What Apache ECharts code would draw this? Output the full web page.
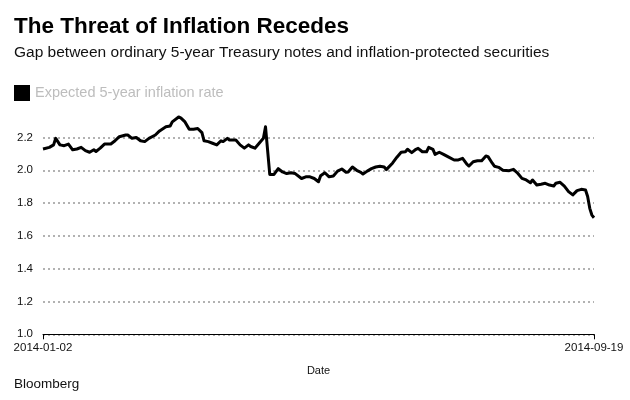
<!DOCTYPE html>
<html>
<head>
<meta charset="utf-8">
<script src="https://cdn.jsdelivr.net/npm/echarts@6/dist/echarts.min.js"></script>
<style>
html,body{margin:0;padding:0;background:#fff;}
#chart{width:630px;height:400px;}
</style>
</head>
<body>
<div id="chart"></div>
<script>
var dates = [
"2014-01-02","2014-01-05","2014-01-07","2014-01-08","2014-01-10","2014-01-12","2014-01-14","2014-01-16","2014-01-18","2014-01-20",
"2014-01-22","2014-01-24","2014-01-26","2014-01-27","2014-01-29","2014-01-31","2014-02-03","2014-02-05","2014-02-07","2014-02-10",
"2014-02-11","2014-02-13","2014-02-15","2014-02-17","2014-02-19","2014-02-21","2014-02-24","2014-02-26","2014-03-01","2014-03-03",
"2014-03-04","2014-03-07","2014-03-08","2014-03-10","2014-03-12","2014-03-14","2014-03-16","2014-03-18","2014-03-19","2014-03-21",
"2014-03-23","2014-03-25","2014-03-27","2014-03-28","2014-03-30","2014-03-31","2014-04-03","2014-04-05","2014-04-07","2014-04-09",
"2014-04-10","2014-04-12","2014-04-14","2014-04-16","2014-04-17","2014-04-19","2014-04-21","2014-04-23","2014-04-25","2014-04-27",
"2014-04-29","2014-05-01","2014-05-04","2014-05-06","2014-05-08","2014-05-10","2014-05-12","2014-05-13","2014-05-15","2014-05-17",
"2014-05-19","2014-05-21","2014-05-23","2014-05-25","2014-05-26","2014-05-28","2014-05-30","2014-06-01","2014-06-02","2014-06-04",
"2014-06-06","2014-06-08","2014-06-10","2014-06-12","2014-06-13","2014-06-16","2014-06-18","2014-06-20","2014-06-22","2014-06-23",
"2014-06-25","2014-06-27","2014-06-28","2014-06-30","2014-07-02","2014-07-03","2014-07-05","2014-07-06","2014-07-08","2014-07-10",
"2014-07-12","2014-07-15","2014-07-17","2014-07-19","2014-07-21","2014-07-22","2014-07-24","2014-07-26","2014-07-28","2014-07-30",
"2014-07-31","2014-08-02","2014-08-03","2014-08-05","2014-08-07","2014-08-10","2014-08-12","2014-08-14","2014-08-16","2014-08-18",
"2014-08-20","2014-08-21","2014-08-23","2014-08-25","2014-08-27","2014-08-29","2014-08-31","2014-09-01","2014-09-03","2014-09-05",
"2014-09-07","2014-09-09","2014-09-11","2014-09-13","2014-09-15","2014-09-16","2014-09-17","2014-09-18","2014-09-19"
];
var inflation = [
2.130,2.140,2.155,2.195,2.155,2.150,2.160,2.125,2.130,2.140,
2.120,2.110,2.125,2.115,2.135,2.160,2.160,2.180,2.205,2.215,
2.215,2.195,2.200,2.180,2.175,2.195,2.215,2.240,2.265,2.270,
2.295,2.325,2.320,2.295,2.250,2.250,2.255,2.230,2.180,2.175,
2.165,2.155,2.180,2.175,2.195,2.185,2.185,2.155,2.135,2.155,
2.145,2.135,2.165,2.195,2.265,1.975,1.975,2.010,1.990,1.980,
1.985,1.980,1.950,1.960,1.960,1.950,1.930,1.967,1.985,1.960,
1.965,1.995,2.008,1.988,1.990,2.020,2.000,1.988,1.977,1.995,
2.010,2.020,2.025,2.020,2.004,2.045,2.080,2.110,2.113,2.128,
2.108,2.128,2.134,2.113,2.113,2.140,2.128,2.097,2.110,2.097,
2.083,2.063,2.063,2.073,2.037,2.026,2.052,2.058,2.058,2.087,
2.083,2.043,2.025,2.018,2.000,1.998,2.006,1.982,1.951,1.941,
1.924,1.941,1.910,1.915,1.921,1.910,1.904,1.921,1.927,1.904,
1.870,1.850,1.876,1.884,1.880,1.840,1.768,1.727,1.711
];
var xEnds = ["2014-01-02", "2014-09-19"];
var yTicks = [1.0, 1.2, 1.4, 1.6, 1.8, 2.0, 2.2];

function stamp(d) { return Date.UTC(+d.slice(0, 4), +d.slice(5, 7) - 1, +d.slice(8, 10)); }
var seriesData = dates.map(function (d, i) { return [stamp(d), inflation[i]]; });
var endStamps = xEnds.map(stamp);
function fmtDate(v) {
  var d = new Date(v);
  var m = d.getUTCMonth() + 1, day = d.getUTCDate();
  return d.getUTCFullYear() + "-" + (m < 10 ? "0" : "") + m + "-" + (day < 10 ? "0" : "") + day;
}

var chart = echarts.init(document.getElementById('chart'), null, {renderer: 'canvas'});
var font = "'Liberation Sans', Arial, Helvetica, sans-serif";
chart.setOption({
  animation: false,
  backgroundColor: '#fff',
  textStyle: {fontFamily: font},
  title: [
    {text: 'The Threat of Inflation Recedes', left: 9, top: 10,
     textStyle: {fontSize: 22.5, fontWeight: 'bold', color: '#000', fontFamily: font}},
    {text: 'Gap between ordinary 5-year Treasury notes and inflation-protected securities', left: 9, top: 40,
     textStyle: {fontSize: 15.5, fontWeight: 'normal', color: '#111', fontFamily: font}},
    {text: 'Bloomberg', left: 9, top: 372,
     textStyle: {fontSize: 13.5, fontWeight: 'normal', color: '#111', fontFamily: font}}
  ],
  legend: {
    left: 9, top: 80, icon: 'rect', itemWidth: 16, itemHeight: 16, itemGap: 6,
    textStyle: {color: '#bdbdbd', fontSize: 14.5, fontFamily: font},
    data: ['Expected 5-year inflation rate']
  },
  grid: {left: 43, right: 36, top: 104.7, bottom: 65.7, containLabel: false},
  xAxis: {
    type: 'value',
    min: endStamps[0], max: endStamps[1], interval: endStamps[1] - endStamps[0],
    name: 'Date', nameLocation: 'middle', nameGap: 31,
    nameTextStyle: {fontSize: 11, color: '#111', fontFamily: font},
    axisLine: {show: true, lineStyle: {color: '#000', width: 1}},
    axisTick: {show: true, length: 5, lineStyle: {color: '#000', width: 1}},
    axisLabel: {show: true, showMinLabel: true, showMaxLabel: true, formatter: function (v) { return fmtDate(v); },
      fontSize: 11.5, color: '#111', margin: 8, fontFamily: font},
    splitLine: {show: false}
  },
  yAxis: {
    type: 'value', min: yTicks[0], max: 2.4, interval: 0.2,
    axisLine: {show: false}, axisTick: {show: false},
    axisLabel: {formatter: function (v) { return yTicks.indexOf(Math.round(v * 10) / 10) >= 0 ? v.toFixed(1) : ''; },
      showMaxLabel: false, fontSize: 11.5, color: '#111', margin: 10, fontFamily: font},
    splitLine: {show: true, showMaxLine: false, lineStyle: {color: '#999', type: [2, 3], width: 1.5}}
  },
  series: [{
    name: 'Expected 5-year inflation rate', type: 'line', data: seriesData,
    showSymbol: false, symbol: 'none', color: '#000',
    lineStyle: {color: '#000', width: 3, join: 'round'}
  }]
});
</script>
</body>
</html>
